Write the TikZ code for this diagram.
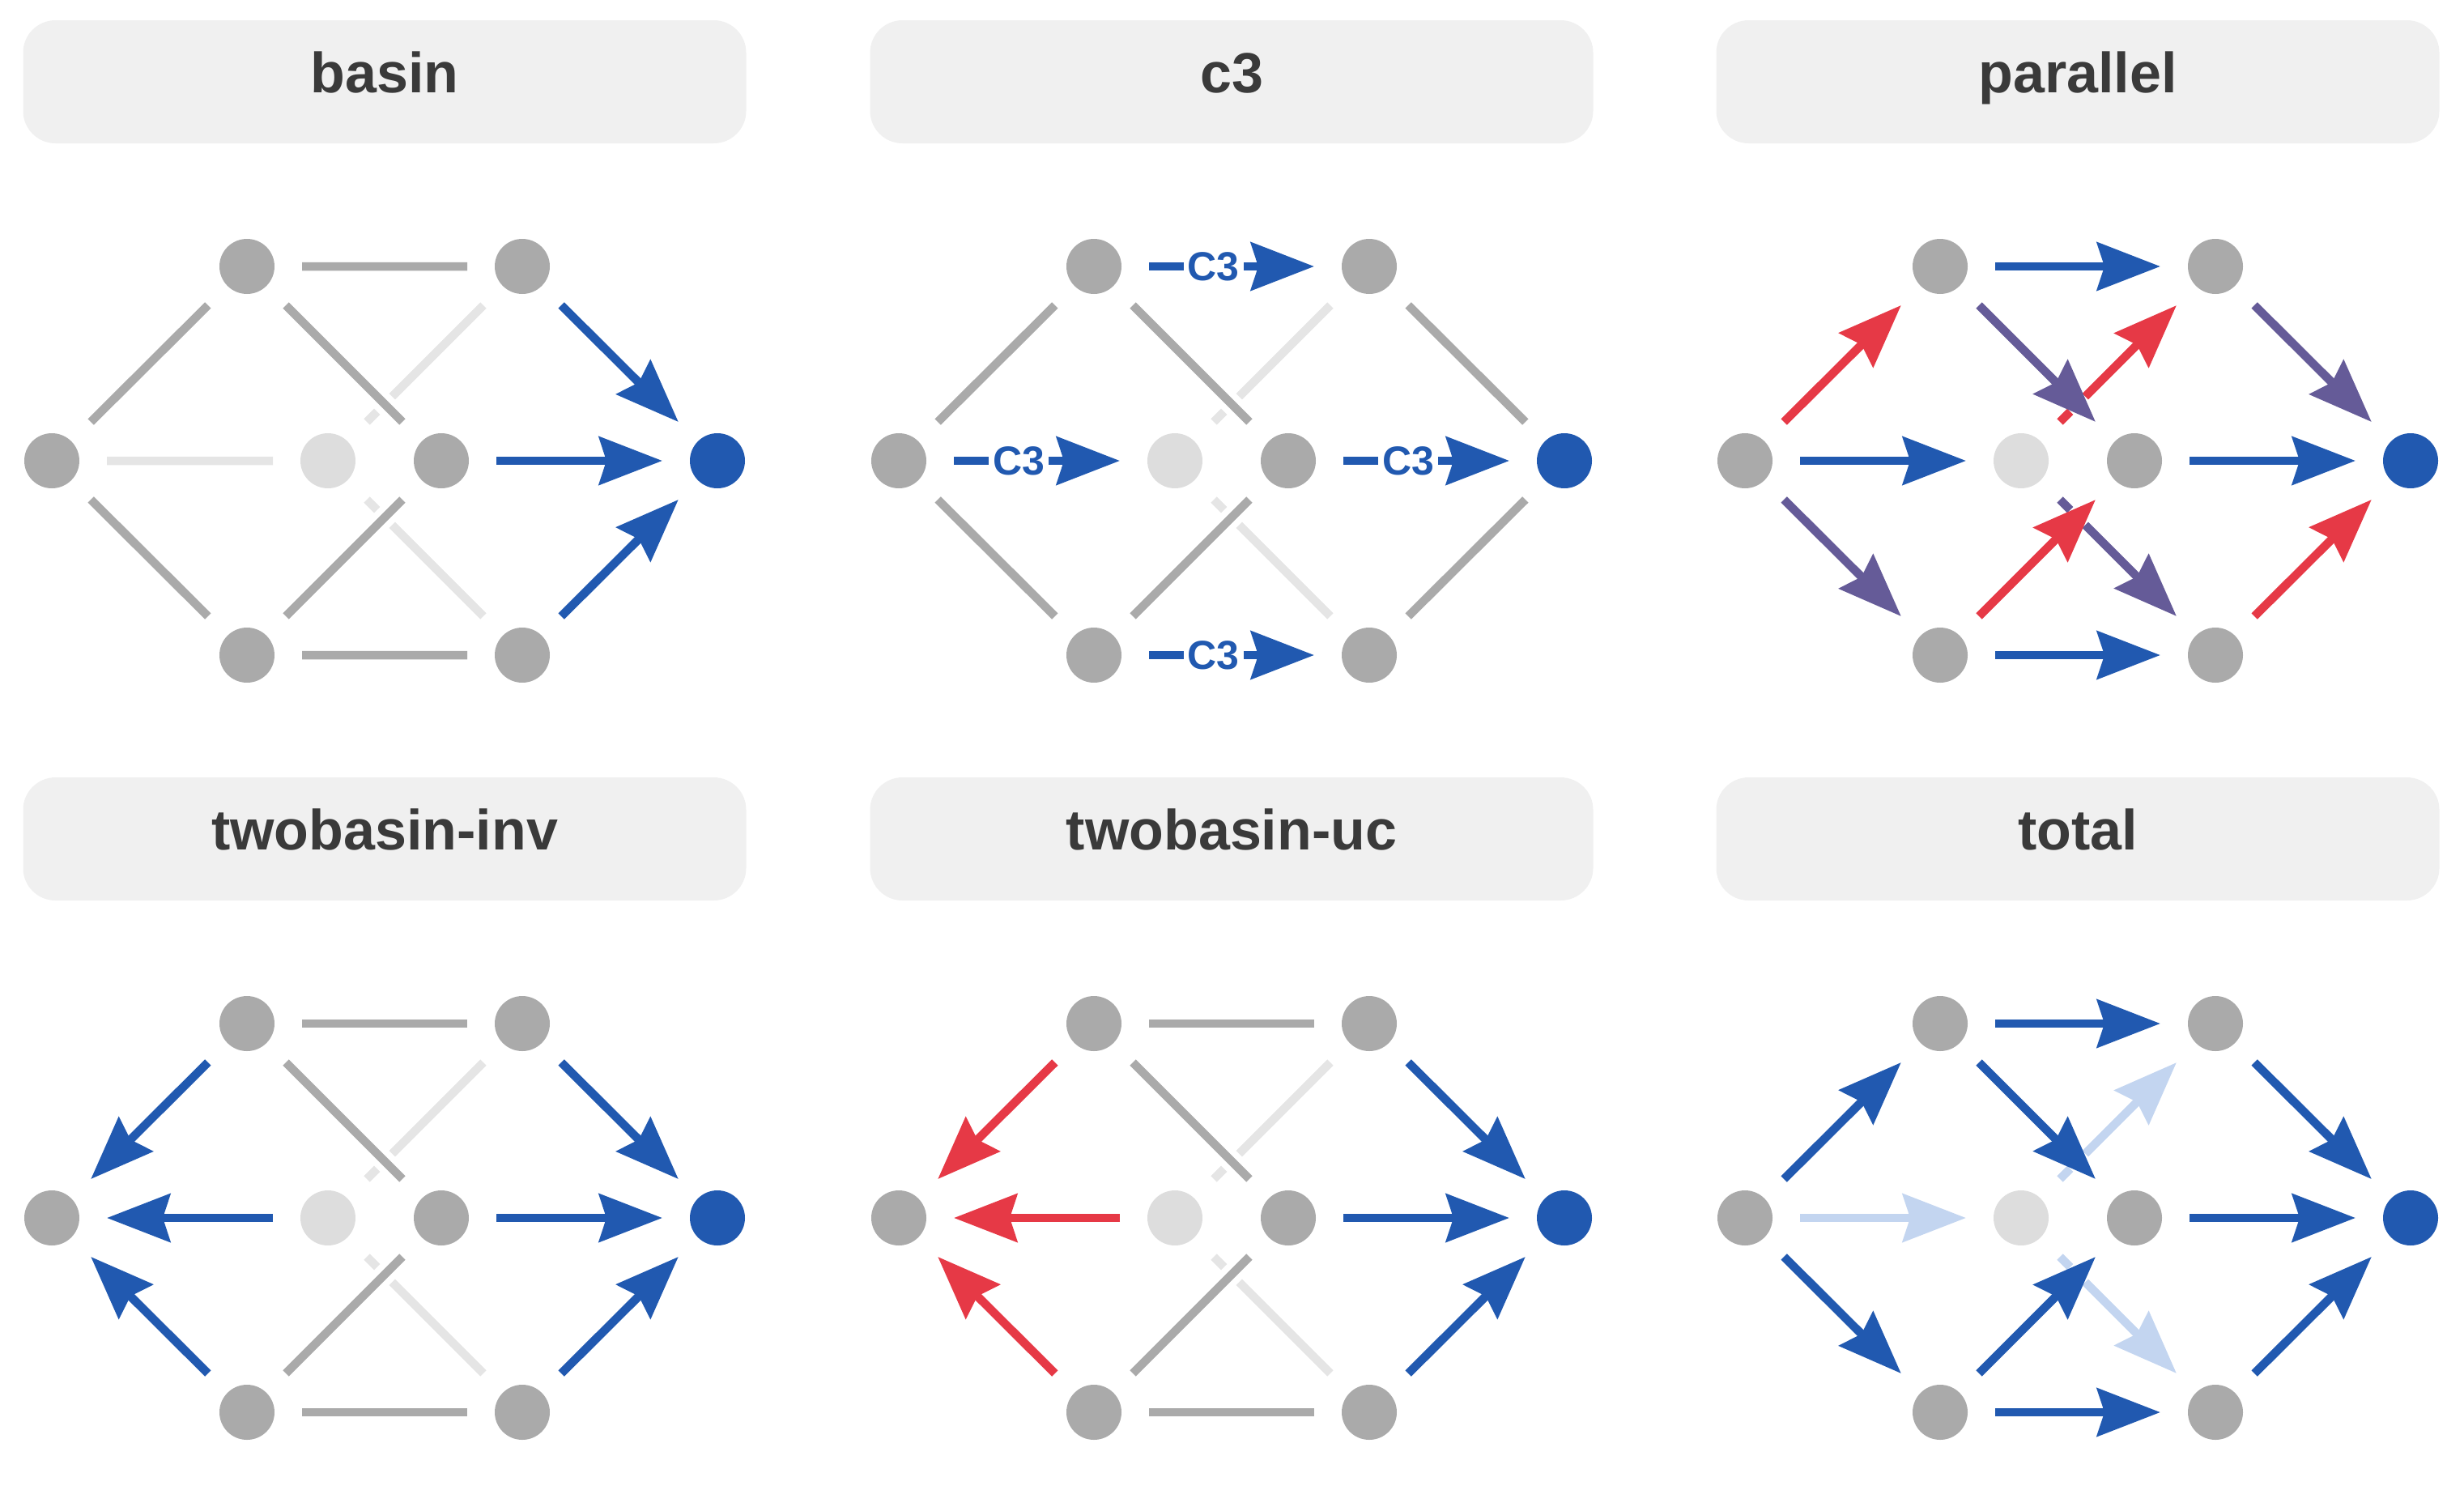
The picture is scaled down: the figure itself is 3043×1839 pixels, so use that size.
\documentclass[tikz,border=0pt]{standalone}
\usepackage{fontspec}
\setmainfont{Liberation Sans}
\usepackage{tikz}
\usetikzlibrary{arrows.meta}

\definecolor{nodegray}{RGB}{170,170,170}
\definecolor{nodelight}{RGB}{221,221,221}
\definecolor{linelight}{RGB}{229,229,229}
\definecolor{flowblue}{RGB}{33,89,176}
\definecolor{flowred}{RGB}{230,57,70}
\definecolor{flowpurple}{RGB}{101,91,152}
\definecolor{flowpale}{RGB}{195,213,240}
\definecolor{titlebg}{RGB}{240,240,240}
\definecolor{titletext}{RGB}{58,58,58}

\tikzset{
  vert/.style={circle,fill=nodegray,minimum size=68pt,inner sep=0pt,outer sep=34pt},
  edge/.style={line width=10.5pt},
  gline/.style={edge,draw=nodegray},
  lline/.style={edge,draw=linelight},
  arr/.style={edge,-{Stealth[length=78pt,width=59pt,inset=9pt]}},
  halo/.style={preaction={draw=white,line width=26pt,arrows=-}},
  title/.style={rectangle,fill=titlebg,rounded corners=40pt,minimum width=893pt,
    minimum height=152pt,text=titletext,font=\bfseries\fontsize{70}{84}\selectfont,
    text height=52pt,text depth=26pt},
  tag/.style={fill=white,inner sep=5pt,text=flowblue,font=\bfseries\fontsize{50}{60}\selectfont}
}

% the seven states of one panel
\newcommand{\graphnodes}[3]{%
  \node[vert] (#1L) at (#2-411,#3) {};
  \node[vert] (#1A) at (#2-170,#3-240) {};
  \node[vert] (#1B) at (#2-170,#3+240) {};
  \node[vert,fill=nodelight] (#1C) at (#2-70,#3) {};
  \node[vert] (#1M) at (#2+70,#3) {};
  \node[vert] (#1D) at (#2+170,#3-240) {};
  \node[vert] (#1E) at (#2+170,#3+240) {};
  \node[vert,fill=flowblue] (#1T) at (#2+411,#3) {};
}

\begin{document}
\begin{tikzpicture}[x=1pt,y=-1pt]
  \useasboundingbox (0,0) rectangle (3043,1839);

  \node[title] (tbas) at (475,101) {basin};
  \node[title] (tcth) at (1521,101) {c3};
  \node[title] (tpar) at (2566,101) {parallel};
  \node[title] (tinv) at (475,1036) {twobasin-inv};
  \node[title] (tunc) at (1521,1036) {twobasin-uc};
  \node[title] (ttot) at (2566,1036) {total};

  \graphnodes{bas}{475}{569}
  \graphnodes{cth}{1521}{569}
  \graphnodes{par}{2566}{569}
  \graphnodes{inv}{475}{1504}
  \graphnodes{unc}{1521}{1504}
  \graphnodes{tot}{2566}{1504}

  % basin
  \draw[gline] (basL) -- (basA) (basL) -- (basB) (basA) -- (basD) (basB) -- (basE);
  \draw[lline] (basL) -- (basC) (basC) -- (basD) (basC) -- (basE);
  \draw[gline,halo] (basA) -- (basM) (basB) -- (basM);
  \draw[arr,flowblue] (basD) -- (basT);
  \draw[arr,flowblue] (basM) -- (basT);
  \draw[arr,flowblue] (basE) -- (basT);

  % c3
  \draw[gline] (cthL) -- (cthA) (cthL) -- (cthB) (cthD) -- (cthT) (cthE) -- (cthT);
  \draw[lline] (cthC) -- (cthD) (cthC) -- (cthE);
  \draw[gline,halo] (cthA) -- (cthM) (cthB) -- (cthM);
  \draw[arr,flowblue] (cthL) -- node[tag,pos=0.39] (cthLC) {C3} (cthC);
  \draw[arr,flowblue] (cthA) -- node[tag,pos=0.39] (cthAD) {C3} (cthD);
  \draw[arr,flowblue] (cthB) -- node[tag,pos=0.39] (cthBE) {C3} (cthE);
  \draw[arr,flowblue] (cthM) -- node[tag,pos=0.39] (cthMT) {C3} (cthT);

  % parallel
  \draw[arr,flowred] (parC) -- (parD);
  \draw[arr,flowpurple] (parC) -- (parE);
  \draw[arr,flowpurple,halo] (parA) -- (parM);
  \draw[arr,flowred,halo] (parB) -- (parM);
  \draw[arr,flowred] (parL) -- (parA);
  \draw[arr,flowpurple] (parL) -- (parB);
  \draw[arr,flowblue] (parL) -- (parC);
  \draw[arr,flowblue] (parA) -- (parD);
  \draw[arr,flowblue] (parB) -- (parE);
  \draw[arr,flowpurple] (parD) -- (parT);
  \draw[arr,flowblue] (parM) -- (parT);
  \draw[arr,flowred] (parE) -- (parT);

  % twobasin-inv
  \draw[gline] (invA) -- (invD) (invB) -- (invE);
  \draw[lline] (invC) -- (invD) (invC) -- (invE);
  \draw[gline,halo] (invA) -- (invM) (invB) -- (invM);
  \draw[arr,flowblue] (invA) -- (invL);
  \draw[arr,flowblue] (invC) -- (invL);
  \draw[arr,flowblue] (invB) -- (invL);
  \draw[arr,flowblue] (invD) -- (invT);
  \draw[arr,flowblue] (invM) -- (invT);
  \draw[arr,flowblue] (invE) -- (invT);

  % twobasin-uc
  \draw[gline] (uncA) -- (uncD) (uncB) -- (uncE);
  \draw[lline] (uncC) -- (uncD) (uncC) -- (uncE);
  \draw[gline,halo] (uncA) -- (uncM) (uncB) -- (uncM);
  \draw[arr,flowred] (uncA) -- (uncL);
  \draw[arr,flowred] (uncC) -- (uncL);
  \draw[arr,flowred] (uncB) -- (uncL);
  \draw[arr,flowblue] (uncD) -- (uncT);
  \draw[arr,flowblue] (uncM) -- (uncT);
  \draw[arr,flowblue] (uncE) -- (uncT);

  % total
  \draw[arr,flowpale] (totL) -- (totC);
  \draw[arr,flowpale] (totC) -- (totD);
  \draw[arr,flowpale] (totC) -- (totE);
  \draw[arr,flowblue,halo] (totA) -- (totM);
  \draw[arr,flowblue,halo] (totB) -- (totM);
  \draw[arr,flowblue] (totL) -- (totA);
  \draw[arr,flowblue] (totL) -- (totB);
  \draw[arr,flowblue] (totA) -- (totD);
  \draw[arr,flowblue] (totB) -- (totE);
  \draw[arr,flowblue] (totD) -- (totT);
  \draw[arr,flowblue] (totM) -- (totT);
  \draw[arr,flowblue] (totE) -- (totT);

\end{tikzpicture}
\end{document}
